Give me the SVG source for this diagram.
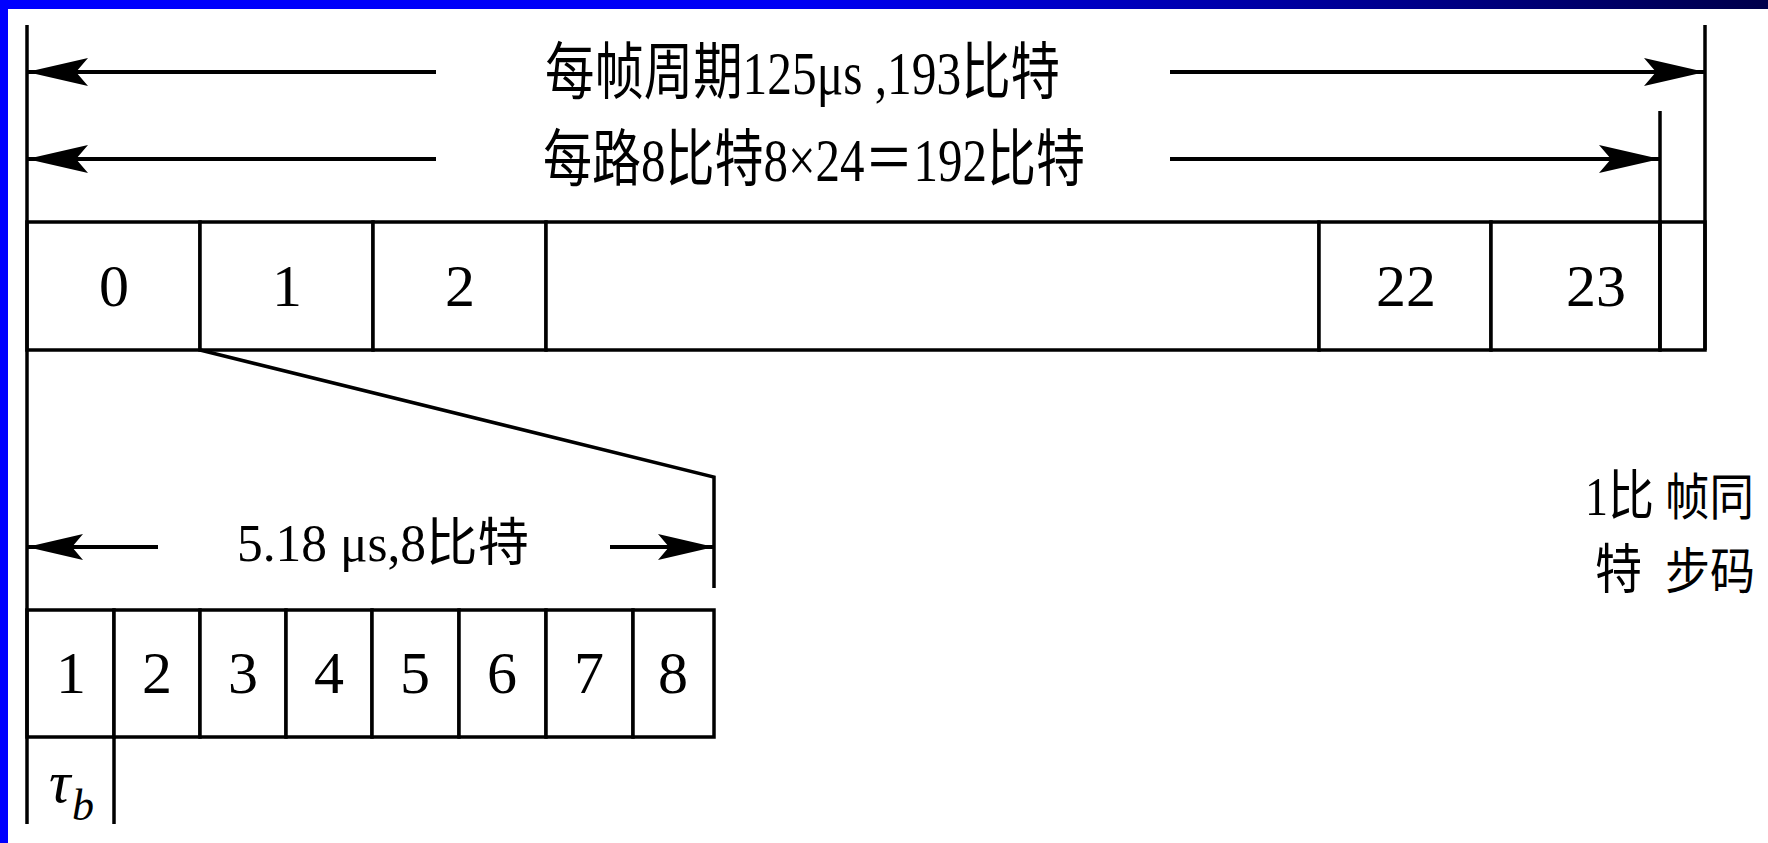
<svg xmlns="http://www.w3.org/2000/svg" width="1768" height="843" viewBox="0 0 1768 843">
<defs>
<linearGradient id="topbar" x1="0" y1="0" x2="1" y2="0">
<stop offset="0" stop-color="#0000ff"/>
<stop offset="0.45" stop-color="#0000f4"/>
<stop offset="0.7" stop-color="#0000a8"/>
<stop offset="1" stop-color="#00004a"/>
</linearGradient>
<marker id="arr" viewBox="-62 -15 64 30" refX="0" refY="0" markerWidth="64" markerHeight="30" markerUnits="userSpaceOnUse" orient="auto">
<path d="M0,0 L-61,-14 L-49,0 L-61,14 Z" fill="#000"/>
</marker>
<marker id="arrs" viewBox="-58 -15 60 30" refX="0" refY="0" markerWidth="60" markerHeight="30" markerUnits="userSpaceOnUse" orient="auto">
<path d="M0,0 L-56,-13 L-45,0 L-56,13 Z" fill="#000"/>
</marker>
</defs>
<style>
.ln{stroke:#000;stroke-width:3.5;fill:none;stroke-linecap:butt}
.ar{stroke:#000;stroke-width:4;fill:none}
.cell{fill:#fff;stroke:#000;stroke-width:3.5}
.t{font-family:'Liberation Serif','Noto Sans CJK SC',serif;fill:#000}
.num{font-family:'Liberation Serif',serif;font-size:60px;text-anchor:middle;fill:#000}
</style>
<rect x="0" y="0" width="1768" height="843" fill="#fff"/>
<g id="frame">
<rect x="0" y="0" width="8" height="843" fill="#0000ff"/>
<rect x="0" y="0" width="1768" height="9" fill="url(#topbar)"/>
</g>
<g id="frame-row">
<g id="slot-0"><rect class="cell" x="27" y="222" width="173" height="128"/><text class="num" x="114" y="306">0</text></g>
<g id="slot-1"><rect class="cell" x="200" y="222" width="173" height="128"/><text class="num" x="287" y="306">1</text></g>
<g id="slot-2"><rect class="cell" x="373" y="222" width="173" height="128"/><text class="num" x="460" y="306">2</text></g>
<g id="slot-gap"><rect class="cell" x="546" y="222" width="773" height="128"/></g>
<g id="slot-22"><rect class="cell" x="1319" y="222" width="172" height="128"/><text class="num" x="1406" y="306">22</text></g>
<g id="slot-23"><rect class="cell" x="1491" y="222" width="169" height="128"/><text class="num" x="1596" y="306">23</text></g>
<g id="slot-sync"><rect class="cell" x="1660" y="222" width="45" height="128"/></g>
</g>
<g id="bit-row">
<g id="bit-1"><rect class="cell" x="27" y="610" width="87" height="127"/><text class="num" x="71" y="693">1</text></g>
<g id="bit-2"><rect class="cell" x="114" y="610" width="86" height="127"/><text class="num" x="157" y="693">2</text></g>
<g id="bit-3"><rect class="cell" x="200" y="610" width="86" height="127"/><text class="num" x="243" y="693">3</text></g>
<g id="bit-4"><rect class="cell" x="286" y="610" width="86" height="127"/><text class="num" x="329" y="693">4</text></g>
<g id="bit-5"><rect class="cell" x="372" y="610" width="87" height="127"/><text class="num" x="415" y="693">5</text></g>
<g id="bit-6"><rect class="cell" x="459" y="610" width="87" height="127"/><text class="num" x="502" y="693">6</text></g>
<g id="bit-7"><rect class="cell" x="546" y="610" width="87" height="127"/><text class="num" x="589" y="693">7</text></g>
<g id="bit-8"><rect class="cell" x="633" y="610" width="81" height="127"/><text class="num" x="673" y="693">8</text></g>
</g>
<g id="connectors">
<line class="ln" x1="27" y1="25" x2="27" y2="824"/>
<line class="ln" x1="1705" y1="25" x2="1705" y2="350"/>
<line class="ln" x1="1660" y1="111" x2="1660" y2="350"/>
<line class="ln" x1="114" y1="737" x2="114" y2="824"/>
<polyline class="ln" points="200,350 714,477 714,588"/>
<line class="ar" x1="436" y1="72" x2="27" y2="72" marker-end="url(#arr)"/>
<line class="ar" x1="1170" y1="72" x2="1705" y2="72" marker-end="url(#arr)"/>
<line class="ar" x1="436" y1="159" x2="27" y2="159" marker-end="url(#arr)"/>
<line class="ar" x1="1170" y1="159" x2="1660" y2="159" marker-end="url(#arr)"/>
<line class="ar" x1="158" y1="547" x2="27" y2="547" marker-end="url(#arrs)"/>
<line class="ar" x1="610" y1="547" x2="714" y2="547" marker-end="url(#arrs)"/>
</g>
<g id="labels">
<text class="t" x="545" y="94" font-size="62" textLength="515" lengthAdjust="spacingAndGlyphs">每帧周期125μs ,193比特</text>
<text class="t" x="543" y="181" font-size="62" textLength="542" lengthAdjust="spacingAndGlyphs">每路8比特8×24＝192比特</text>
<text class="t" x="237" y="561" font-size="52" textLength="292" lengthAdjust="spacingAndGlyphs">5.18 μs,8比特</text>
<text class="t" font-style="italic" x="49" y="802" font-size="60">τ<tspan font-size="44" x="72" y="820">b</tspan></text>
<text class="t" font-size="54"><tspan x="1585" y="515" textLength="69" lengthAdjust="spacingAndGlyphs">1比</tspan><tspan x="1595" y="589" textLength="47" lengthAdjust="spacingAndGlyphs">特</tspan></text>
<text class="t" font-size="50"><tspan x="1665" y="515" textLength="89" lengthAdjust="spacingAndGlyphs">帧同</tspan><tspan x="1665" y="589" textLength="90" lengthAdjust="spacingAndGlyphs">步码</tspan></text>
</g>
</svg>
